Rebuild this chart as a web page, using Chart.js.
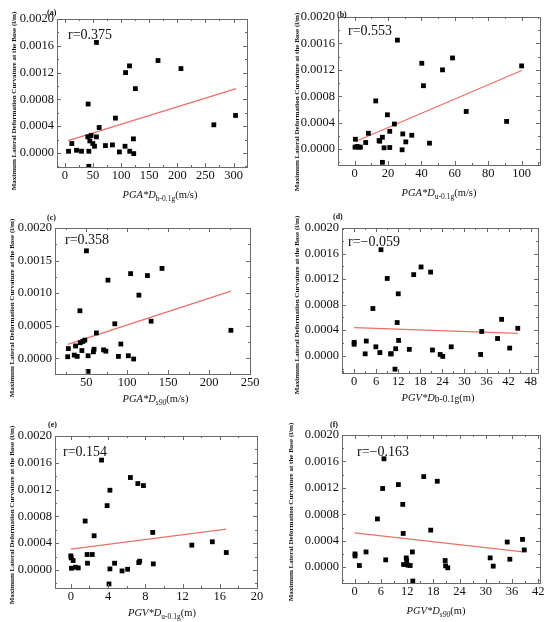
<!DOCTYPE html>
<html><head><meta charset="utf-8">
<script src="https://cdn.jsdelivr.net/npm/chart.js@4.4.0/dist/chart.umd.min.js"></script>
<style>
html,body{margin:0;padding:0;background:#fff;}
body{width:550px;height:622px;position:relative;overflow:hidden;}
.p{position:absolute;}
</style></head><body>
<div class="p" style="left:0px;top:0px;width:275px;height:207px"><canvas id="ca"></canvas></div>
<div class="p" style="left:275px;top:0px;width:275px;height:207px"><canvas id="cb"></canvas></div>
<div class="p" style="left:0px;top:205px;width:275px;height:207px"><canvas id="cc"></canvas></div>
<div class="p" style="left:275px;top:205px;width:275px;height:207px"><canvas id="cd"></canvas></div>
<div class="p" style="left:0px;top:410px;width:275px;height:212px"><canvas id="ce"></canvas></div>
<div class="p" style="left:275px;top:410px;width:275px;height:212px"><canvas id="cf"></canvas></div>
<script>
// ---------- data ----------
const aX = [6.5,12.4,20.7,29.6,42.6,41.4,40.8,44.4,46.7,49.7,52.7,56.2,56.2,61,42.6,72.2,84.6,90,97,107,108,115,115.4,122.5,122,125.4,165.7,206.5,265,303.6];
const aY = [0.000025,0.00014,0.00004,0.000025,0.000025,0.00073,0.00024,0.00018,0.00026,0.00014,0.0001,0.00024,0.00165,0.00038,-0.0002,0.00011,0.00012,0.00052,0.000015,0.0001,0.0012,0.0013,0.000025,-0.00001,0.00021,0.00096,0.00138,0.00126,0.00042,0.00056];
const aFitX = [5.9, 304.7];
const aFitY = [0.000185, 0.00096];

const bX = [0.4,0.2,1.4,2.4,3.4,6.6,8.2,12.6,14.6,15,16.6,16.6,17.6,19.6,21,21,23.8,25.6,28.4,28.8,30.6,34.2,40.2,41.2,44.8,52.6,58.6,66.8,91,100];
const bY = [0.00015,0.00003,0.00004,0.00003,0.00003,0.0001,0.00024,0.00073,0.00013,0.00012,0.00018,-0.0002,0.00002,0.00052,0.00027,0.000025,0.00038,0.00165,-0.00001,0.00023,0.00011,0.00021,0.0013,0.00096,0.00009,0.0012,0.00138,0.00057,0.00042,0.00126];
const bFitX = [0.4, 100];
const bFitY = [0.000116, 0.00119];

const cX = [27.5,28.3,35.5,37.1,39.1,42.4,42.8,44.8,46,48.4,50.4,52.4,52.4,58.9,59.7,62.5,71.3,74.1,76.6,85,89.4,92.3,101.5,104.3,108,114.4,124.8,129.3,142.6,226.7];
const cY = [0.000025,0.00015,0.00005,0.00019,0.00003,0.00073,0.00024,0.00012,0.00026,0.00028,0.00165,0.00004,-0.0002,0.0001,0.00014,0.00039,0.00013,0.00011,0.0012,0.00053,0.00003,0.00022,0.00004,0.0013,-0.00001,0.00097,0.00127,0.00057,0.00138,0.00043];
const cFitX = [27.5, 226.7];
const cFitY = [0.000214, 0.00103];

const dX = [0,0,3,3.3,5.1,5.9,7,7.3,9,9.9,10.1,11.1,11.3,11.7,12,12.1,15,16.2,18.2,20.8,21.3,23.4,24.1,26.4,34.4,34.7,39,40.1,42.3,44.5];
const dY = [0.00021,0.00018,0.00003,0.00023,0.00074,0.00014,0.00005,0.00166,0.00121,0.00003,0.00003,-0.00021,0.00011,0.00052,0.00097,0.00024,0.0001,0.00127,0.00139,0.00131,0.00009,0.00002,-0.00001,0.00014,0.00002,0.00038,0.00027,0.00057,0.00012,0.00043];
const dFitX = [0, 44.5];
const dFitY = [0.00044, 0.00035];

const eX = [0,0.04,0.07,0.25,0.5,0.8,1.54,1.75,1.79,2.3,2.5,3.3,3.9,4.2,4.2,4.1,4.7,5.5,6.1,6.4,7.2,7.3,7.4,7.8,8.8,8.86,13,15.2,16.7];
const eY = [0.00021,0.00018,0.000025,0.00014,0.00004,0.00003,0.00073,0.00023,0.0001,0.00023,0.00051,0.00164,0.00096,0.00119,0.000015,-0.00021,0.0001,-0.000015,0.00001,0.00138,0.00129,0.00011,0.00013,0.00126,0.00056,0.00009,0.00037,0.00042,0.00026];
const eFitX = [0, 16.7];
const eFitY = [0.00031, 0.00061];

const fX = [0.08,0.08,1.07,2.6,5.2,6.4,6.7,7.1,10,11,11.1,11.2,11.8,11.9,12.2,12.7,13.2,13.3,15.8,17.4,18.9,20.7,20.8,21.3,31,31.7,34.9,35.5,38.4,38.8];
const fY = [0.0002,0.00017,0.000025,0.00023,0.00073,0.00119,0.00164,0.00011,0.00125,0.00095,0.00051,0.00004,0.00014,0.0001,0.00003,0.000025,0.00023,-0.00021,0.00137,0.00056,0.0013,0.0001,0.00002,-0.00001,0.00014,0.000015,0.00038,0.00012,0.00042,0.00026];
const fFitX = [0, 38.6];
const fFitY = [0.00052, 0.00023];

// tick labels
const yTicks4 = [0, 0.0004, 0.0008, 0.0012, 0.0016, 0.0020];
const yTicks5 = [0, 0.0005, 0.0010, 0.0015, 0.0020];
const aXTicks = [0, 50, 100, 150, 200, 250, 300];
const bXTicks = [0, 20, 40, 60, 80, 100];
const cXTicks = [50, 100, 150, 200, 250];
const dXTicks = [0, 6, 12, 18, 24, 30, 36, 42, 48];
const eXTicks = [0, 4, 8, 12, 16, 20];
const fXTicks = [0, 6, 12, 18, 24, 30, 36, 42];

const yTitle = 'Maximum Lateral Deformation Curvature at the Base (l/m)';
const rTexts = ['r=0.375', 'r=0.553', 'r=0.358', 'r=\u22120.059', 'r=0.154', 'r=\u22120.163'];
const panelLabels = ['(a)', '(b)', '(c)', '(d)', '(e)', '(f)'];
const xTitles = [
  [['PGA*D','i'], ['b-0.1g','sub'], ['(m/s)','n']],
  [['PGA*D','i'], ['u-0.1g','sub'], ['(m/s)','n']],
  [['PGA*D','i'], ['s90','subi'], ['(m/s)','n']],
  [['PGV*D','i'], ['b-0.1g','low'], ['(m)','n']],
  [['PGV*D','i'], ['u-0.1g','sub'], ['(m)','n']],
  [['PGV*D','i'], ['s90','subi'], ['(m)','n']]
];

// ---------- layout (page coords) ----------
const panels = [
  {id:'ca', X:aX, Y:aY, FX:aFitX, FY:aFitY, xt:aXTicks, yt:yTicks4, xr:[-14,324], yr:[-0.00021,0.002],
   box:[0,0,275,207], L:57, R:247, T:19, B:167, r:[11,16], lab:[47,13], xtc:8, xty:27, ytx:14.5, yty:101},
  {id:'cb', X:bX, Y:bY, FX:bFitX, FY:bFitY, xt:bXTicks, yt:yTicks4, xr:[-10,111], yr:[-0.00024,0.002],
   box:[275,0,275,207], L:338, R:540, T:17, B:165, r:[10,14], lab:[337,15], xtc:0, xty:27, ytx:22, yty:102},
  {id:'cc', X:cX, Y:cY, FX:cFitX, FY:cFitY, xt:cXTicks, yt:yTicks5, xr:[12,250], yr:[-0.00024,0.002],
   box:[0,205,275,207], L:55, R:250, T:228, B:374, r:[10,12], lab:[47,218], xtc:3, xty:24, ytx:12.5, yty:103},
  {id:'cd', X:dX, Y:dY, FX:dFitX, FY:dFitY, xt:dXTicks, yt:yTicks4, xr:[-3.3,50], yr:[-0.00027,0.002],
   box:[275,205,275,207], L:342, R:538, T:228, B:373, r:[6,14], lab:[333,217], xtc:-2, xty:24, ytx:22, yty:100},
  {id:'ce', X:eX, Y:eY, FX:eFitX, FY:eFitY, xt:eXTicks, yt:yTicks4, xr:[-1.7,20], yr:[-0.00027,0.002],
   box:[0,410,275,212], L:55, R:257, T:436, B:588, r:[8,16], lab:[48,425], xtc:6, xty:24, ytx:12.5, yty:105},
  {id:'cf', X:fX, Y:fY, FX:fFitX, FY:fFitY, xt:fXTicks, yt:yTicks4, xr:[-2.9,42.4], yr:[-0.00024,0.002],
   box:[275,410,275,212], L:342, R:540, T:435, B:583, r:[15,17], lab:[330,425], xtc:-5, xty:27, ytx:16, yty:102}
];

const SERIF = "'Liberation Serif','Times New Roman',serif";

const deco = {
  id: 'deco',
  afterDraw(chart, args, o) {
    const ctx = chart.ctx, ca = chart.chartArea;
    const xs = chart.scales.x, ys = chart.scales.y;
    const p = o.p, idx = o.idx;
    const x0 = p.box[0], y0 = p.box[1];
    ctx.save();
    // frame
    ctx.strokeStyle = '#6a6a6a';
    ctx.lineWidth = 1;
    ctx.strokeRect(Math.round(ca.left)+0.5, Math.round(ca.top)+0.5, Math.round(ca.right-ca.left), Math.round(ca.bottom-ca.top));
    // inward ticks
    const drawX = (v, len) => {
      const px = Math.round(xs.getPixelForValue(v)) + 0.5;
      if (px < ca.left || px > ca.right) return;
      ctx.beginPath();
      ctx.moveTo(px, ca.bottom); ctx.lineTo(px, ca.bottom - len);
      ctx.moveTo(px, ca.top); ctx.lineTo(px, ca.top + len);
      ctx.stroke();
    };
    const drawY = (v, len) => {
      const py = Math.round(ys.getPixelForValue(v)) + 0.5;
      if (py < ca.top - 0.6 || py > ca.bottom) return;
      ctx.beginPath();
      ctx.moveTo(ca.left, py); ctx.lineTo(ca.left + len, py);
      ctx.moveTo(ca.right, py); ctx.lineTo(ca.right - len, py);
      ctx.stroke();
    };
    const xt = p.xt, yt = p.yt;
    const xstep = xt[1]-xt[0], ystep = yt[1]-yt[0];
    xt.forEach(v => drawX(v, 4));
    for (let v = xt[0]-xstep/2; v <= xs.max; v += xstep) if (v >= xs.min) drawX(v, 2);
    yt.forEach(v => drawY(v, 4));
    for (let v = yt[0]-ystep/2; v <= ys.max + 1e-12; v += ystep) if (v >= ys.min) drawY(v, 2);

    ctx.fillStyle = '#111';
    // r text
    ctx.font = '14px ' + SERIF;
    ctx.textAlign = 'left'; ctx.textBaseline = 'middle';
    ctx.fillText(rTexts[idx], ca.left + p.r[0], ca.top + p.r[1]);
    // panel label
    ctx.font = 'bold 8px ' + SERIF;
    ctx.fillText(panelLabels[idx], p.lab[0] - x0, p.lab[1] - y0);
    // y title
    ctx.save();
    ctx.font = 'bold 7px ' + SERIF;
    ctx.translate(p.ytx, p.yty);
    ctx.rotate(-Math.PI/2);
    ctx.textAlign = 'center'; ctx.textBaseline = 'middle';
    ctx.fillText(yTitle, 0, 0);
    ctx.restore();
    // x title
    const parts = xTitles[idx];
    const fontOf = k => k === 'i' ? 'italic 10.5px ' + SERIF :
                       k === 'sub' ? '7.5px ' + SERIF :
                       k === 'subi' ? 'italic 7.5px ' + SERIF :
                       k === 'low' ? '9.5px ' + SERIF : '10.5px ' + SERIF;
    const dyOf = k => (k === 'sub' || k === 'subi') ? 3 : k === 'low' ? 1.5 : 0;
    let total = 0;
    parts.forEach(([t,k]) => { ctx.font = fontOf(k); total += ctx.measureText(t).width; });
    let cx = (ca.left + ca.right)/2 + p.xtc - total/2;
    const by = ca.bottom + p.xty + 3.5;
    ctx.textAlign = 'left'; ctx.textBaseline = 'alphabetic';
    parts.forEach(([t,k]) => {
      ctx.font = fontOf(k);
      ctx.fillText(t, cx, by + dyOf(k));
      cx += ctx.measureText(t).width;
    });
    ctx.restore();
  }
};

panels.forEach((p, idx) => {
  const [x0, y0, w, h] = p.box;
  const pts = p.X.map((x, i) => ({x: x, y: p.Y[i]}));
  const fit = p.FX.map((x, i) => ({x: x, y: p.FY[i]}));
  new Chart(document.getElementById(p.id), {
    type: 'scatter',
    data: {
      datasets: [
        {type: 'line', data: fit, borderColor: '#ec6f68', borderWidth: 1.3, pointRadius: 0, fill: false, order: 2},
        {data: pts, pointStyle: 'rect', pointRadius: 3.4, backgroundColor: '#000', borderWidth: 0, pointHoverRadius: 3.4, order: 1}
      ]
    },
    options: {
      responsive: true, maintainAspectRatio: false, animation: false,
      events: [],
      layout: {padding: {left: 0, right: x0 + w - p.R, top: p.T - y0, bottom: 0}},
      plugins: {legend: {display: false}, tooltip: {enabled: false}, deco: {p: p, idx: idx}},
      scales: {
        x: {
          type: 'linear', min: p.xr[0], max: p.xr[1],
          afterBuildTicks: s => { s.ticks = p.xt.map(v => ({value: v})); },
          afterFit: s => { s.height = (y0 + h) - p.B; },
          grid: {display: false, drawTicks: false},
          border: {display: false},
          ticks: {color: '#111', font: {family: SERIF, size: 12.5}, padding: 1, maxRotation: 0, autoSkip: false,
                  callback: v => String(v)}
        },
        y: {
          type: 'linear', min: p.yr[0], max: p.yr[1],
          afterBuildTicks: s => { s.ticks = p.yt.map(v => ({value: v})); },
          afterFit: s => { s.width = p.L - x0; },
          grid: {display: false, drawTicks: false},
          border: {display: false},
          ticks: {color: '#111', font: {family: SERIF, size: 12.5}, padding: 3, autoSkip: false,
                  callback: v => Number(v).toFixed(4)}
        }
      }
    },
    plugins: [deco]
  });
});
</script>
</body></html>
